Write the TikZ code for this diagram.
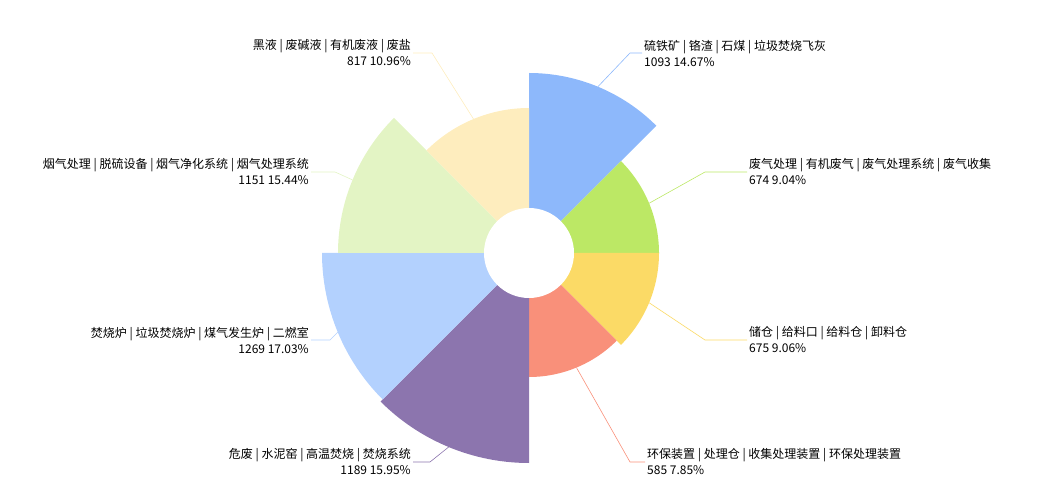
\documentclass[tikz,border=0pt]{standalone}
\usepackage{fontspec}
\setmainfont{Noto Sans CJK SC}
\usetikzlibrary{positioning,calc}
\definecolor{cBlue}{HTML}{8DB8FB}
\definecolor{cGreen}{HTML}{BCE865}
\definecolor{cYellow}{HTML}{FBDA66}
\definecolor{cSalmon}{HTML}{F9907A}
\definecolor{cPurple}{HTML}{8C75AE}
\definecolor{cLightBlue}{HTML}{B3D1FE}
\definecolor{cLightGreen}{HTML}{E3F4C4}
\definecolor{cCream}{HTML}{FEEDBE}
\tikzset{
  lblright/.style = {anchor=west, align=left, inner sep=2pt, font=\fontsize{12}{16}\selectfont},
  lblleft/.style = {anchor=east, align=right, inner sep=2pt, font=\fontsize{12}{16}\selectfont},
  leader/.style = {line width=0.6pt}
}
\begin{document}
\begin{tikzpicture}[x=1pt,y=1pt]
    \useasboundingbox (0,0) rectangle (1046,501);
    \coordinate (c) at (529,248);
    % sectors: end angle / radius / colour / name
    \foreach \aend/\rad/\col/\nm in {90/180/cBlue/s1, 45/130/cGreen/s2,
      0/130/cYellow/s3, -45/124/cSalmon/s4, -90/210/cPurple/s5,
      -135/207/cLightBlue/s6, 180/191/cLightGreen/s7, 135/145/cCream/s8} {
      \fill[\col] (c) -- ++(\aend-45:\rad) arc[start angle=\aend-45,
        end angle=\aend, radius=\rad] -- cycle;
      \coordinate (\nm) at ($(c)+(\aend-22.5:\rad)$);
    }
    \fill[white] (c) circle[radius=45];
    % labels
    \node[lblright] (l1) at (642,448) {硫铁矿 | 铬渣 | 石煤 | 垃圾焚烧飞灰\\1093 14.67\%};
    \node[lblright] (l2) at (747,329) {废气处理 | 有机废气 | 废气处理系统 | 废气收集\\674 9.04\%};
    \node[lblright] (l3) at (747,161) {储仓 | 给料口 | 给料仓 | 卸料仓\\675 9.06\%};
    \node[lblright] (l4) at (645,39) {环保装置 | 处理仓 | 收集处理装置 | 环保处理装置\\585 7.85\%};
    \node[lblleft] (l5) at (413,39) {危废 | 水泥窑 | 高温焚烧 | 焚烧系统\\1189 15.95\%};
    \node[lblleft] (l6) at (311,161) {焚烧炉 | 垃圾焚烧炉 | 煤气发生炉 | 二燃室\\1269 17.03\%};
    \node[lblleft] (l7) at (311,329) {烟气处理 | 脱硫设备 | 烟气净化系统 | 烟气处理系统\\1151 15.44\%};
    \node[lblleft] (l8) at (413,448) {黑液 | 废碱液 | 有机废液 | 废盐\\817 10.96\%};
    % leader lines
    \draw[leader, cBlue] (s1) -- (630,448) -- (l1.west);
    \draw[leader, cGreen] (s2) -- (705,329) -- (l2.west);
    \draw[leader, cYellow] (s3) -- (705,161) -- (l3.west);
    \draw[leader, cSalmon] (s4) -- (630,39) -- (l4.west);
    \draw[leader, cPurple] (s5) -- (430,39) -- (l5.east);
    \draw[leader, cLightBlue] (s6) -- (330,161) -- (l6.east);
    \draw[leader, cLightGreen] (s7) -- (335,329) -- (l7.east);
    \draw[leader, cCream] (s8) -- (432,448) -- (l8.east);
  \end{tikzpicture}
\end{document}
